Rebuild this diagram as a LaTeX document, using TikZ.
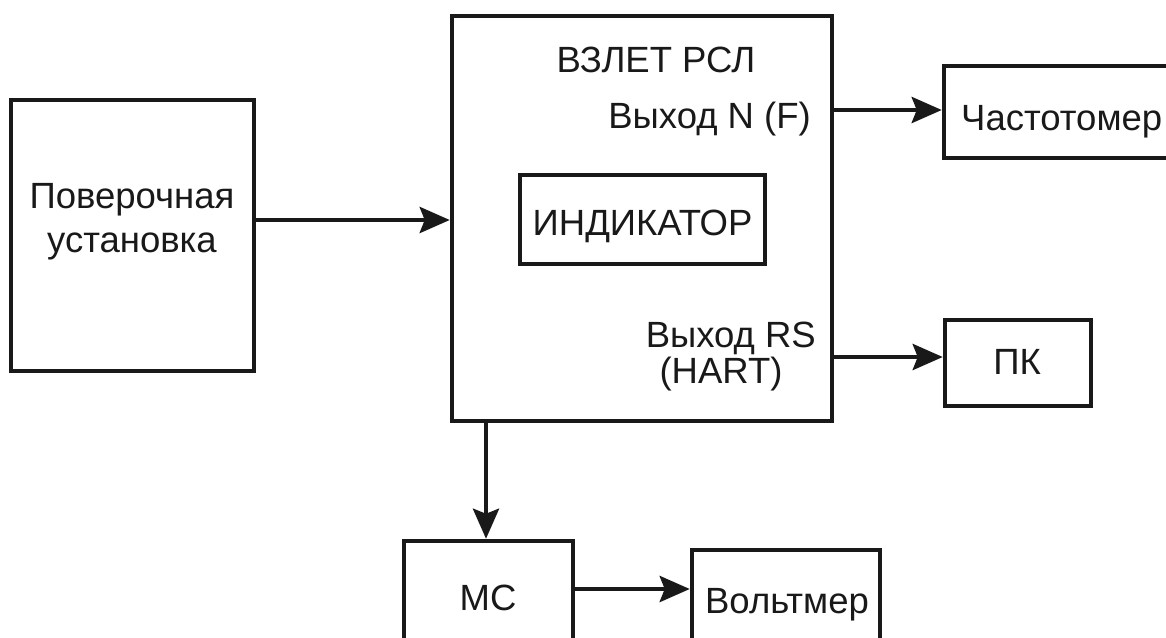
\documentclass[tikz,border=0pt]{standalone}
\usepackage{fontspec}
\setmainfont{Liberation Sans}
\usetikzlibrary{arrows.meta}
\begin{document}
\begin{tikzpicture}[x=1pt,y=-1pt,
  box/.style={draw=black!90, line width=4.5pt, inner sep=0pt, minimum width=#1},
  lbl/.style={inner sep=0pt, font=\fontsize{36.5}{40}\selectfont, text=black!90},
  arr/.style={draw=black!90, line width=4.5pt, -{Stealth[length=30pt,width=26pt,inset=5pt]}}]
\useasboundingbox (0,0) rectangle (1166,637);
\clip (0,0) rectangle (1166,637);
% boxes
\node[box=243pt, minimum height=271pt] (pov) at (132.5,235.5) {};
\node[box=380pt, minimum height=405pt] (main) at (642,218.5) {};
\node[box=245pt, minimum height=89pt] (ind) at (642.5,219.5) {};
\node[box=276pt, minimum height=92pt] (freq) at (1082,112) {};
\node[box=146pt, minimum height=86pt] (pk) at (1018,363) {};
\node[box=169pt, minimum height=179pt] (mc) at (488.5,630.5) {};
\node[box=188pt, minimum height=170pt] (volt) at (786,635) {};
% labels
\node[lbl, anchor=base] (t1) at (132,208) {Поверочная};
\node[lbl, anchor=base] (t2) at (132,252) {установка};
\node[lbl, anchor=base] (t3) at (656,72) {ВЗЛЕТ РСЛ};
\node[lbl, anchor=base east] (t4) at (811,128) {Выход N (F)};
\node[lbl, anchor=base] (t5) at (642.5,235) {ИНДИКАТОР};
\node[lbl, anchor=base east] (t6) at (816,347) {Выход RS};
\node[lbl, anchor=base] (t7) at (721,383) {(HART)};
\node[lbl, anchor=base west] (t8) at (961,130) {Частотомер};
\node[lbl, anchor=base] (t9) at (1017,374) {ПК};
\node[lbl, anchor=base] (t10) at (488,610) {МС};
\node[lbl, anchor=base] (t11) at (787,613) {Вольтмер};
% connector levels
\coordinate (y1) at (0,220);
\coordinate (y2) at (0,110);
\coordinate (y3) at (0,357);
\coordinate (x4) at (486,0);
\coordinate (y5) at (0,589);
% connectors
\draw[arr] (pov.east |- y1) -- (main.west |- y1);
\draw[arr] (main.east |- y2) -- (freq.west |- y2);
\draw[arr] (main.east |- y3) -- (pk.west |- y3);
\draw[arr] (main.south -| x4) -- (mc.north -| x4);
\draw[arr] (mc.east |- y5) -- (volt.west |- y5);
\end{tikzpicture}
\end{document}
